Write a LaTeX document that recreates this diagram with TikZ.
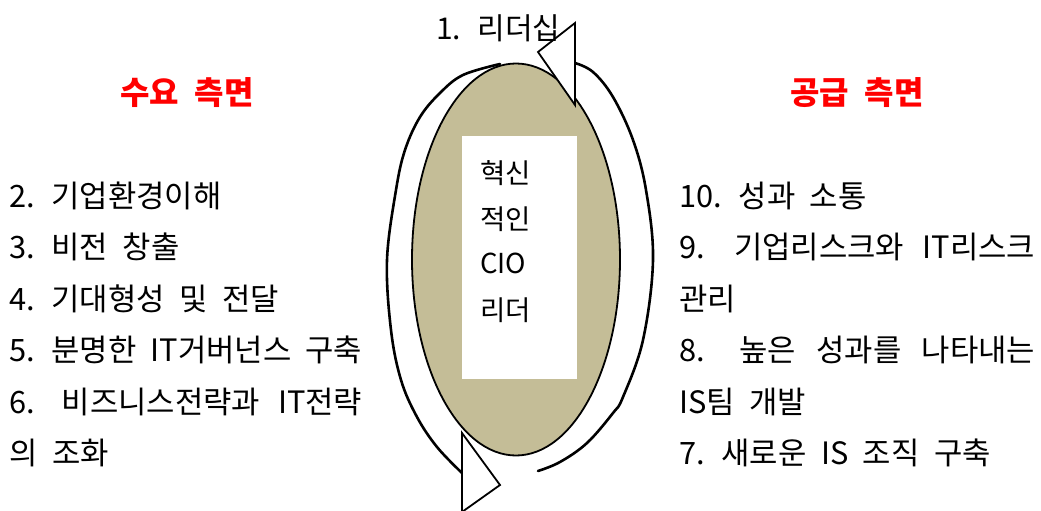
\documentclass[tikz,border=0pt]{standalone}
\usepackage{fontspec}
\setmainfont{Noto Sans CJK KR}[WordSpace=2.1]
\definecolor{tan}{HTML}{C4BD97}
\definecolor{hred}{HTML}{FF0000}
\begin{document}
\begin{tikzpicture}[x=1pt,y=-1pt,
  body/.style={anchor=base west,inner sep=0pt,font=\fontsize{30.8}{32}\selectfont},
  head/.style={anchor=base,inner sep=0pt,text=hred,font=\fontsize{32}{34}\selectfont\bfseries},
  innertext/.style={anchor=base west,inner sep=0pt,font=\fontsize{27.5}{29}\selectfont},
  arcline/.style={line width=2.6pt,line cap=round},
  tri/.style={draw,fill=white,line width=1.8pt,line join=miter}]
\useasboundingbox (0,0) rectangle (1041,511);
\clip (0,0) rectangle (1041,511);
% central ellipse and box
\draw[fill=tan,line width=1.8pt] (516,259.5) ellipse [x radius=104, y radius=196];
\fill[white] (462,136) rectangle (577,379);
% left circular arrow
\draw[arcline] plot[smooth,tension=0.6] coordinates {(500,64) (463,75) (440,93) (420,117) (405,150) (396,190) (387,260) (391,330) (401,380) (417,417) (437,447) (462,473)};
% right circular arrow
\draw[arcline] plot[smooth,tension=0.6] coordinates {(538,471) (560,462) (587,443) (613,413) (623,397) (643,340) (653,260) (646,190) (633,140) (613,97) (593,72) (575,63)};
% arrowheads
\draw[tri] (575,23) -- (538,52) -- (575,105) -- cycle;
\draw[tri] (462,433) -- (500,485) -- (462,512) -- cycle;
% top label
\node[anchor=base west,inner sep=0pt,font=\fontsize{30}{32}\selectfont] (lead) at (436,40) {1. 리더십};
% headings
\node[head] (demand) at (187,104) {수요 측면};
\node[head] (supply) at (857,104) {공급 측면};
% inner text
\node[innertext] (c1) at (480,183) {혁신};
\node[innertext] (c2) at (480,229) {적인};
\node[innertext] (c3) at (480,273) {CIO};
\node[innertext] (c4) at (480,320) {리더};
% left column
\node[body] (l2) at (9,207) {2. 기업환경이해};
\node[body] (l3) at (9,258) {3. 비전 창출};
\node[body] (l4) at (9,310) {4. 기대형성 및 전달};
\node[body] (l5) at (9,361) {\makebox[353pt][s]{5. 분명한 IT거버넌스 구축}};
\node[body] (l6) at (9,413) {\makebox[353pt][s]{6. 비즈니스전략과 IT전략}};
\node[body] (l7) at (9,464) {의 조화};
% right column
\node[body] (r10) at (679,207) {10. 성과 소통};
\node[body] (r9) at (679,258) {\makebox[356pt][s]{9. 기업리스크와 IT리스크}};
\node[body] (r9b) at (679,310) {관리};
\node[body] (r8) at (679,361) {\makebox[356pt][s]{8. 높은 성과를 나타내는}};
\node[body] (r8b) at (679,413) {IS팀 개발};
\node[body] (r7) at (679,464) {7. 새로운 IS 조직 구축};
\end{tikzpicture}
\end{document}
